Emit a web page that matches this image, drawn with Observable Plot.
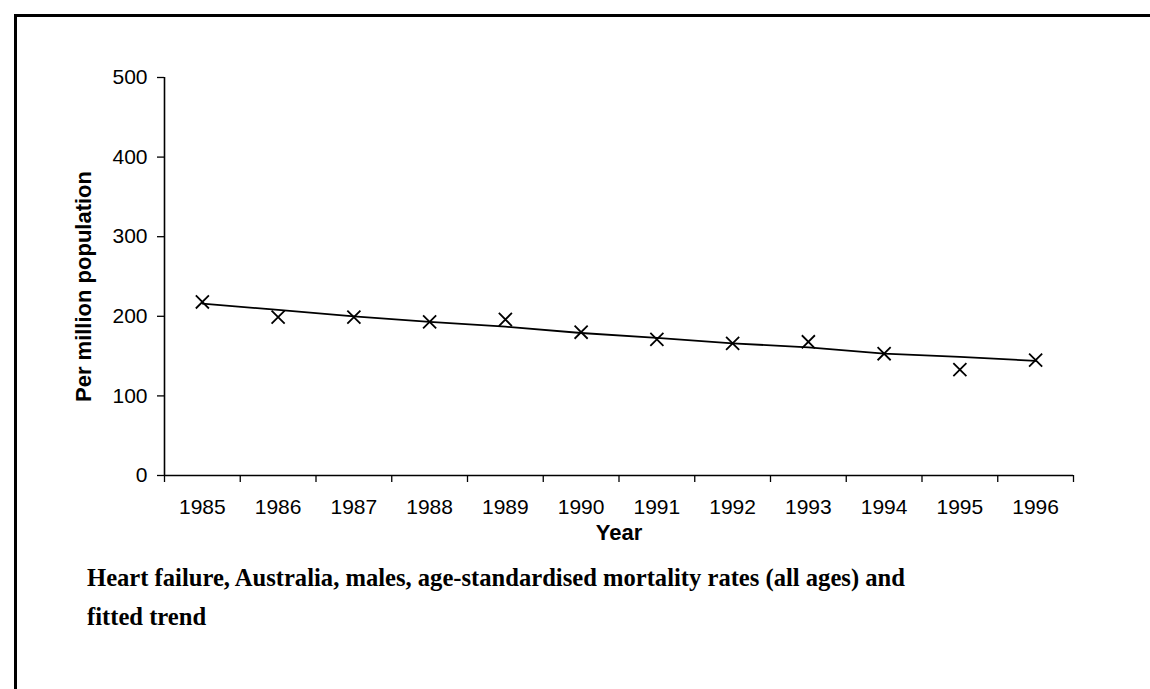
<!DOCTYPE html>
<html>
<head>
<meta charset="utf-8">
<script src="https://cdn.jsdelivr.net/npm/d3@7"></script>
<script src="https://cdn.jsdelivr.net/npm/@observablehq/plot@0.6"></script>
<style>
  html, body { margin: 0; padding: 0; background: #fff; }
  body { position: relative; width: 1150px; height: 689px; overflow: hidden; }
  #frame { position: absolute; left: 14px; top: 14px; width: 1300px; height: 900px;
           border-left: 3px solid #000; border-top: 3px solid #000; }
  #chart { position: absolute; left: 0; top: 0; }
  #caption { position: absolute; left: 87px; top: 558px; font-family: "Liberation Serif", "Times New Roman", serif;
             font-weight: bold; font-size: 24.6px; line-height: 39px; color: #000; white-space: nowrap; }
</style>
</head>
<body>
<div id="frame"></div>
<div id="chart"></div>
<div id="caption">Heart failure, Australia, males, age-standardised mortality rates (all ages) and<br>fitted trend</div>
<script>
const years = [1985, 1986, 1987, 1988, 1989, 1990, 1991, 1992, 1993, 1994, 1995, 1996];
const rates = [218, 199, 199, 193, 196, 180, 171, 166, 168, 153, 133, 145];
const trend = [216, 208, 200, 193, 187, 179, 173, 166, 161, 153, 149, 144];
const yTicks = [0, 100, 200, 300, 400, 500];
const yLabel = "Per million population";
const xLabel = "Year";

const observed = years.map((y, i) => ({year: y, value: rates[i]}));
const fitted = years.map((y, i) => ({year: y, value: trend[i]}));
const bounds = [years[0] - 0.5, ...years.map(y => y + 0.5)];

const font = "Liberation Sans, Arial, sans-serif";

const chart = Plot.plot({
  width: 1150,
  height: 560,
  marginLeft: 164,
  marginRight: 77,
  marginTop: 77,
  marginBottom: 85,
  style: {fontFamily: font, fontSize: "21px", color: "#000", background: "transparent", overflow: "visible"},
  x: {type: "linear", domain: [years[0] - 0.5, years[years.length - 1] + 0.5]},
  y: {domain: [0, 500]},
  marks: [
    Plot.axisY({ticks: yTicks, tickSize: 7, tickPadding: 10, label: null, fontSize: 21, strokeWidth: 1.3}),
    Plot.axisX({ticks: bounds, tickSize: 7, tickFormat: () => "", label: null, strokeWidth: 1.3}),
    Plot.axisX({ticks: years, tickSize: 0, tickPadding: 24, tickFormat: d => String(d), label: null, fontSize: 21}),
    Plot.ruleY([0], {stroke: "#000", strokeWidth: 1.6}),
    Plot.ruleX([bounds[0]], {y1: 0, y2: 500, stroke: "#000", strokeWidth: 1.6}),
    Plot.line(fitted, {x: "year", y: "value", stroke: "#000", strokeWidth: 1.8}),
    Plot.dot(observed, {x: "year", y: "value", symbol: "times", r: 6, stroke: "#000", strokeWidth: 1.8}),
    Plot.text([xLabel], {frameAnchor: "bottom", dy: 64, fontWeight: "bold", fontSize: 22}),
    Plot.text([yLabel], {frameAnchor: "left", textAnchor: "middle", dx: -81, dy: 10, rotate: -90, fontWeight: "bold", fontSize: 22})
  ]
});
document.getElementById("chart").appendChild(chart);
</script>
</body>
</html>
